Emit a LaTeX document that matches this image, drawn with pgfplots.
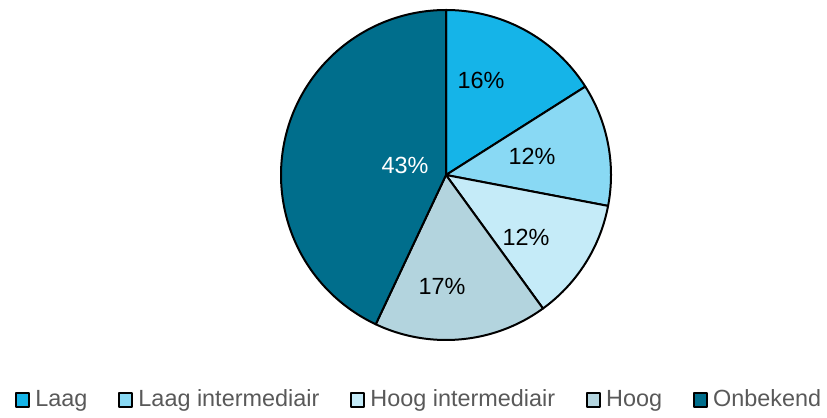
\documentclass[border=0pt]{standalone}
\usepackage{pgfplots}
\usepackage{pgfplotstable}
\pgfplotsset{compat=1.18}
\usepackage{fontspec}
\setmainfont{Liberation Sans}

\definecolor{cLaag}{RGB}{21,180,232}
\definecolor{cLaagInt}{RGB}{137,217,244}
\definecolor{cHoogInt}{RGB}{197,235,248}
\definecolor{cHoog}{RGB}{179,212,222}
\definecolor{cOnbekend}{RGB}{0,110,140}
\definecolor{legendgrey}{RGB}{89,89,89}

% share of each category, in percent, clockwise from the top
\pgfplotstableread{
categorie value
Laag 16
LaagIntermediair 12
HoogIntermediair 12
Hoog 17
Onbekend 43
}\piedata

\pgfplotstablegetelem{0}{value}\of\piedata \let\vA\pgfplotsretval
\pgfplotstablegetelem{1}{value}\of\piedata \let\vB\pgfplotsretval
\pgfplotstablegetelem{2}{value}\of\piedata \let\vC\pgfplotsretval
\pgfplotstablegetelem{3}{value}\of\piedata \let\vD\pgfplotsretval
\pgfplotstablegetelem{4}{value}\of\piedata \let\vE\pgfplotsretval

% slice boundaries (degrees), starting at 12 o'clock and going clockwise
\pgfmathsetmacro\aA{90}
\pgfmathsetmacro\aB{\aA-3.6*\vA}
\pgfmathsetmacro\aC{\aB-3.6*\vB}
\pgfmathsetmacro\aD{\aC-3.6*\vC}
\pgfmathsetmacro\aE{\aD-3.6*\vD}
\pgfmathsetmacro\aF{\aE-3.6*\vE}

% pie centre and radius in axis units
\def\cx{446}
\def\cy{243}
\def\rr{165}

\begin{document}
\begin{tikzpicture}
\begin{axis}[
  scale only axis,
  width=413.5bp, height=209bp,
  xmin=0, xmax=827, ymin=0, ymax=418,
  hide axis,
  clip=false,
  font=\fontsize{11.75}{14}\selectfont,
  legend columns=5,
  legend image code/.code={\draw[#1] (0bp,-3.25bp) rectangle (6.5bp,3.25bp);},
  legend style={
    at={(axis cs:15,18)}, anchor=west,
    draw=none, fill=none, inner sep=0pt,
    nodes={inner sep=0pt, text=legendgrey, font=\fontsize{11.75}{14}\selectfont},
    /tikz/every odd column/.append style={column sep=2.5bp},
    /tikz/every even column/.append style={column sep=15.5bp},
  },
  wedge/.style={draw=black, line width=1bp, line join=round,
    samples=80, variable=\t, smooth},
]
\path (axis cs:0,0) (axis cs:827,418);

\addplot[wedge, fill=cLaag, domain=\aB:\aA]
  ({\cx+\rr*cos(\t)},{\cy+\rr*sin(\t)}) -- (axis cs:\cx,\cy) -- cycle;
\addlegendentry{Laag}
\addplot[wedge, fill=cLaagInt, domain=\aC:\aB]
  ({\cx+\rr*cos(\t)},{\cy+\rr*sin(\t)}) -- (axis cs:\cx,\cy) -- cycle;
\addlegendentry{Laag intermediair}
\addplot[wedge, fill=cHoogInt, domain=\aD:\aC]
  ({\cx+\rr*cos(\t)},{\cy+\rr*sin(\t)}) -- (axis cs:\cx,\cy) -- cycle;
\addlegendentry{Hoog intermediair}
\addplot[wedge, fill=cHoog, domain=\aE:\aD]
  ({\cx+\rr*cos(\t)},{\cy+\rr*sin(\t)}) -- (axis cs:\cx,\cy) -- cycle;
\addlegendentry{Hoog}
\addplot[wedge, fill=cOnbekend, domain=\aF:\aE]
  ({\cx+\rr*cos(\t)},{\cy+\rr*sin(\t)}) -- (axis cs:\cx,\cy) -- cycle;
\addlegendentry{Onbekend}

% data labels
\node[text=black] at (axis cs:481,338) {\vA\%};
\node[text=black] at (axis cs:532,262) {\vB\%};
\node[text=black] at (axis cs:526,181) {\vC\%};
\node[text=black] at (axis cs:442,132) {\vD\%};
\node[text=white] at (axis cs:405,253) {\vE\%};
\end{axis}
\end{tikzpicture}
\end{document}
